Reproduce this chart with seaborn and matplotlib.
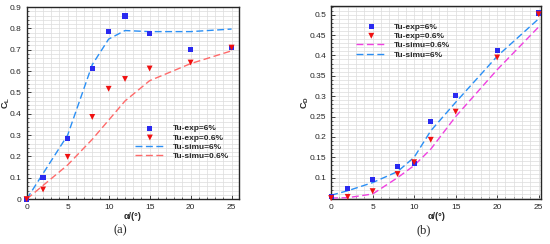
import numpy as np
import pandas as pd
import matplotlib
matplotlib.use("Agg")
import matplotlib.pyplot as plt
from matplotlib.ticker import MultipleLocator
import seaborn as sns

# angle of attack
alpha = [0, 2, 5, 8, 10, 12, 15, 20, 25]
alpha_simu = [0, 5, 8, 10, 12, 15, 20, 25]
alpha_simu_b = [0, 2, 5, 8, 10, 12, 15, 20, 25]

# (a) lift coefficient
cl_exp_6 = [0.0, 0.10, 0.283, 0.613, 0.785, 0.858, 0.775, 0.703, 0.712]
cl_exp_06 = [0.0, 0.045, 0.198, 0.385, 0.517, 0.563, 0.612, 0.640, 0.710]
cl_simu_6 = [0.0, 0.30, 0.63, 0.75, 0.79, 0.785, 0.785, 0.797]
cl_simu_06 = [0.0, 0.16, 0.28, 0.37, 0.46, 0.555, 0.635, 0.695]

# (b) drag coefficient
cd_exp_6 = [0.054, 0.074, 0.096, 0.128, 0.134, 0.238, 0.301, 0.413, 0.504]
cd_exp_06 = [0.050, 0.053, 0.067, 0.109, 0.138, 0.193, 0.262, 0.395, 0.501]
cd_simu_06 = [0.050, 0.051, 0.060, 0.100, 0.130, 0.170, 0.250, 0.365, 0.470]
cd_simu_6 = [0.057, 0.068, 0.088, 0.115, 0.150, 0.215, 0.285, 0.398, 0.490]

sns.set_style("ticks")
plt.rcParams['font.family'] = ['Liberation Sans', 'DejaVu Sans']
plt.rcParams['mathtext.fontset'] = 'custom'
plt.rcParams['mathtext.bf'] = 'Liberation Sans:bold'
plt.rcParams['mathtext.rm'] = 'Liberation Sans'

fig = plt.figure(figsize=(5.5, 2.44), dpi=100)
ax1 = fig.add_axes([0.0485, 0.184, 0.386, 0.787])
ax2 = fig.add_axes([0.602, 0.184, 0.382, 0.791])

sq_blue = "#2a2af0"
tri_red = "#f01010"
line_blue = "#2a8ff5"
line_red = "#ff6a6a"
line_mag = "#f040e0"
dash = (5, 2.5)


def style_axes(ax):
    ax.grid(which="both", color="#dcdcdc", linewidth=0.5)
    ax.set_axisbelow(True)
    ax.tick_params(which="both", direction="in", labelsize=6, top=False, right=False)
    ax.tick_params(which="major", length=3, width=0.6)
    ax.tick_params(which="minor", length=1.5, width=0.5)
    for s in ax.spines.values():
        s.set_linewidth(1.0)
        s.set_visible(True)
    ax.xaxis.set_major_locator(MultipleLocator(5))
    ax.xaxis.set_minor_locator(MultipleLocator(1))
    ax.set_xlabel("α/(°)", fontsize=6.5, fontweight="bold", labelpad=1)
    for c in ax.collections:
        c.set_clip_on(False)


# ---- (a)
df_a = pd.DataFrame({"alpha": alpha, "exp6": cl_exp_6, "exp06": cl_exp_06})
df_as = pd.DataFrame({"alpha": alpha_simu, "simu6": cl_simu_6, "simu06": cl_simu_06})

sns.scatterplot(data=df_a, x="alpha", y="exp6", ax=ax1, marker="s", color=sq_blue,
                s=14, edgecolor="none", label="Tu-exp=6%", zorder=4)
sns.scatterplot(data=df_a, x="alpha", y="exp06", ax=ax1, marker="v", color=tri_red,
                s=18, edgecolor="none", label="Tu-exp=0.6%", zorder=4)
sns.lineplot(data=df_as, x="alpha", y="simu6", ax=ax1, color=line_blue, linewidth=1.0,
             label="Tu-simu=6%", zorder=3).lines[-1].set_dashes(dash)
sns.lineplot(data=df_as, x="alpha", y="simu06", ax=ax1, color=line_red, linewidth=1.0,
             label="Tu-simu=0.6%", zorder=3).lines[-1].set_dashes(dash)

ax1.set_xlim(0, 25.9)
ax1.set_ylim(0, 0.9)
ax1.yaxis.set_major_locator(MultipleLocator(0.1))
ax1.yaxis.set_minor_locator(MultipleLocator(0.02))
ax1.set_yticks(np.arange(0, 0.91, 0.1))
ax1.set_yticklabels(["0"] + ["%.1f" % v for v in np.arange(0.1, 0.91, 0.1)])
style_axes(ax1)
ax1.set_ylabel(r"$\mathbf{C_L}$", fontsize=6.5)
ax1.yaxis.set_label_coords(-0.068, 0.5)
ax1.legend(loc="upper left", bbox_to_anchor=(0.49, 0.41), frameon=False,
           prop={"size": 6, "weight": "bold"}, handlelength=3.6, handletextpad=0.9,
           labelspacing=0.18, borderpad=0)

# ---- (b)
df_b = pd.DataFrame({"alpha": alpha, "exp6": cd_exp_6, "exp06": cd_exp_06})
df_bs = pd.DataFrame({"alpha": alpha_simu_b, "simu06": cd_simu_06, "simu6": cd_simu_6})

sns.scatterplot(data=df_b, x="alpha", y="exp6", ax=ax2, marker="s", color=sq_blue,
                s=14, edgecolor="none", label="Tu-exp=6%", zorder=4)
sns.scatterplot(data=df_b, x="alpha", y="exp06", ax=ax2, marker="v", color=tri_red,
                s=18, edgecolor="none", label="Tu-exp=0.6%", zorder=4)
sns.lineplot(data=df_bs, x="alpha", y="simu06", ax=ax2, color=line_mag, linewidth=1.0,
             label="Tu-simu=0.6%", zorder=3).lines[-1].set_dashes(dash)
sns.lineplot(data=df_bs, x="alpha", y="simu6", ax=ax2, color=line_blue, linewidth=1.0,
             label="Tu-simu=6%", zorder=3).lines[-1].set_dashes(dash)

ax2.set_xlim(0, 25.3)
ax2.set_ylim(0.0475, 0.521)
ax2.yaxis.set_major_locator(MultipleLocator(0.05))
ax2.yaxis.set_minor_locator(MultipleLocator(0.01))
ax2.set_yticks(np.arange(0.1, 0.51, 0.05))
ax2.set_yticklabels(["%g" % round(v, 2) for v in np.arange(0.1, 0.51, 0.05)])
style_axes(ax2)
ax2.set_ylabel(r"$\mathbf{C_D}$", fontsize=6.5)
ax2.yaxis.set_label_coords(-0.095, 0.5)
ax2.legend(loc="upper left", bbox_to_anchor=(0.1, 0.935), frameon=False,
           prop={"size": 6, "weight": "bold"}, handlelength=3.6, handletextpad=0.9,
           labelspacing=0.18, borderpad=0)

fig.text(0.218, 0.057, "(a)", fontsize=9, family="Liberation Serif", ha="center", va="center")
fig.text(0.771, 0.057, "(b)", fontsize=9, family="Liberation Serif", ha="center", va="center")

fig.savefig("out.png", dpi=100)
